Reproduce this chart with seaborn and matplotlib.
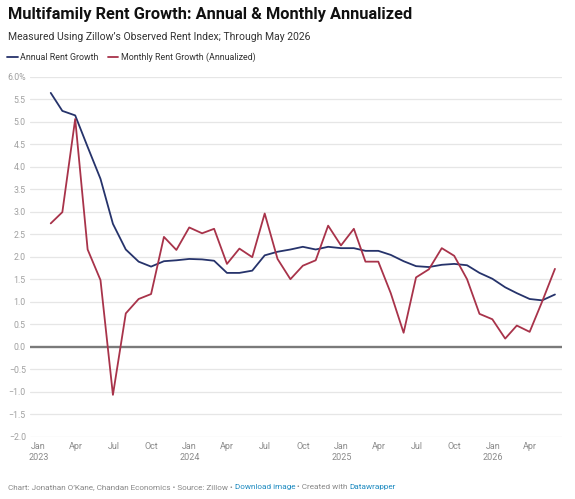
import pandas as pd
import numpy as np
import matplotlib.pyplot as plt
import matplotlib.dates as mdates
import seaborn as sns

# ── Data (Jan 2023 - May 2026, month-end) ────────────────────────────────────
months = pd.date_range("2023-01-31", "2026-05-31", freq="ME")

annual = [5.64, 5.24, 5.14, 4.44, 3.73, 2.73, 2.16, 1.89, 1.78, 1.90,
          1.92, 1.95, 1.94, 1.91, 1.64, 1.64, 1.69, 2.03, 2.11, 2.16,
          2.22, 2.16, 2.22, 2.19, 2.19, 2.13, 2.13, 2.04, 1.90, 1.79,
          1.77, 1.82, 1.84, 1.81, 1.64, 1.51, 1.32, 1.19, 1.06, 1.03,
          1.16]
monthly = [2.74, 2.99, 5.06, 2.16, 1.48, -1.07, 0.74, 1.06, 1.17, 2.44,
           2.15, 2.65, 2.52, 2.62, 1.84, 2.18, 1.99, 2.96, 1.95, 1.50,
           1.80, 1.92, 2.69, 2.25, 2.62, 1.89, 1.89, 1.19, 0.31, 1.54,
           1.72, 2.19, 2.02, 1.50, 0.73, 0.61, 0.18, 0.47, 0.33, 1.00,
           1.73]

series_names = ["Annual Rent Growth", "Monthly Rent Growth (Annualized)"]
colors = ["#26336b", "#a8334a"]

y_ticks = np.arange(-2.0, 6.01, 0.5)

df = pd.DataFrame({
    "date": list(months) * 2,
    "value": annual + monthly,
    "series": [series_names[0]] * len(months) + [series_names[1]] * len(months),
})

# ── Figure ───────────────────────────────────────────────────────────────────
sns.set_theme(style="white")
plt.rcParams["font.family"] = ["Roboto", "DejaVu Sans"]

W, H = 575, 499
fig = plt.figure(figsize=(W / 100, H / 100), dpi=100)
ax = fig.add_axes([30 / W, 1 - 436.7 / H, (562 - 30) / W, 360 / H])

sns.lineplot(data=df, x="date", y="value", hue="series",
             palette=dict(zip(series_names, colors)), linewidth=1.3,
             ax=ax, legend=False)

ax.set_ylim(-2, 6)
ax.set_xlim(pd.Timestamp("2022-12-12"), pd.Timestamp("2026-06-17"))

# gridlines + zero baseline
for y in y_ticks:
    if y != 0:
        ax.axhline(y, color="#e6e6e6", linewidth=0.9, zorder=0)
ax.axhline(0, color="#7a7a7a", linewidth=1.7, zorder=1)

ax.set_yticks(y_ticks)
ylabels = [f"{v:.1f}".replace("-", "\u2212") for v in y_ticks]
ylabels[-1] = "6.0%"
ax.set_yticklabels(ylabels)

ax.xaxis.set_major_locator(mdates.MonthLocator(bymonth=[1, 4, 7, 10]))
xt = mdates.num2date(ax.get_xticks())
ax.set_xticks(ax.get_xticks())
ax.set_xticklabels([d.strftime("%b\n%Y") if d.month == 1 else d.strftime("%b") for d in xt])

ax.tick_params(axis="y", length=0, pad=3, labelsize=6.3, labelcolor="#a0a0a0")
ax.tick_params(axis="x", length=0, pad=4, labelsize=6.5, labelcolor="#8a8a8a")
ax.set_xlabel("")
ax.set_ylabel("")
for s in ax.spines.values():
    s.set_visible(False)
ax.grid(False)

# ── Header ───────────────────────────────────────────────────────────────────
fig.text(8 / W, 1 - 19.5 / H, "Multifamily Rent Growth: Annual & Monthly Annualized",
         fontsize=11.8, fontweight="bold", color="#111111", va="baseline")
fig.text(8 / W, 1 - 40.5 / H, "Measured Using Zillow\u2019s Observed Rent Index; Through May 2026",
         fontsize=7.5, color="#333333", va="baseline")

handles = [plt.Line2D([], [], color=c, linewidth=1.3) for c in colors]
fig.legend(handles, series_names, loc="center left",
           bbox_to_anchor=(7 / W, 1 - 57 / H), ncol=2, frameon=False,
           fontsize=6.4, handlelength=1.2, handletextpad=0.3,
           columnspacing=1.0, borderpad=0, borderaxespad=0,
           labelcolor="#333333")

# ── Footer (chained pieces in two colours) ───────────────────────────────────
parts = [("Chart: Jonathan O\u2019Kane, Chandan Economics \u2022 Source: Zillow \u2022 ", "#888888"),
         ("Download image", "#1d8ac0"),
         (" \u2022 Created with ", "#888888"),
         ("Datawrapper", "#1d8ac0")]
prev = fig.text(8 / W, 1 - 490 / H, parts[0][0], fontsize=5.9,
                color=parts[0][1], va="bottom")
for txt, col in parts[1:]:
    prev = ax.annotate(txt, xy=(1, 0), xycoords=prev, va="bottom", ha="left",
                       fontsize=5.9, color=col, annotation_clip=False)

plt.savefig("out.png", dpi=100)
